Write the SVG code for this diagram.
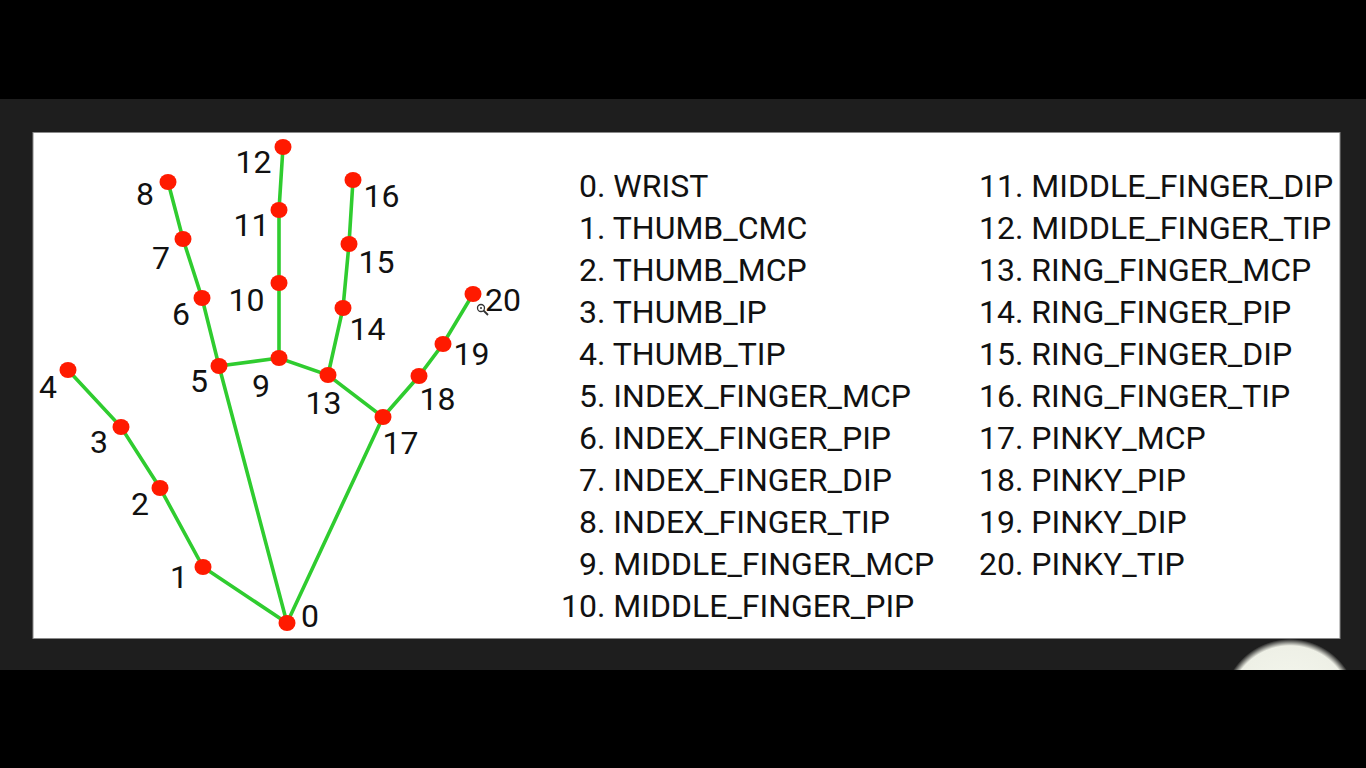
<svg xmlns="http://www.w3.org/2000/svg" width="1366" height="768" viewBox="0 0 1366 768">
  <defs>
    <style>
      .bone { stroke: #2fcc2f; stroke-width: 3.6; stroke-linecap: round; fill: none; }
      .pt { fill: #ff1a00; }
      .lbl { font-family: Roboto, "Liberation Sans", sans-serif; font-size: 32px; fill: #111; }
      .item { font-family: Roboto, "Liberation Sans", sans-serif; font-size: 32px; fill: #111; }
    </style>
    <radialGradient id="blob" cx="0.5" cy="0.5" r="0.5">
      <stop offset="0" stop-color="#f6f8f0"/>
      <stop offset="0.9" stop-color="#eef0e6"/>
      <stop offset="1" stop-color="#1e1e1e"/>
    </radialGradient>
  </defs>
  <rect x="0" y="0" width="1366" height="768" fill="#000"/>
  <rect x="0" y="99" width="1366" height="571" fill="#1e1e1e"/>
  <circle cx="1290" cy="707" r="68" fill="url(#blob)"/>
  <rect x="0" y="670" width="1366" height="98" fill="#000"/>
  <rect x="33" y="132.5" width="1307" height="506" fill="#fff" stroke="#8a8a8a" stroke-width="1"/>

  <g id="connectors">
    <polyline class="bone" points="287,623 203,567 160,488 121,427 68,370"/>
    <polyline class="bone" points="287,623 219,366 202,298 183,239 168,182"/>
    <polyline class="bone" points="219,366 279,358 328,375 383,417 287,623"/>
    <polyline class="bone" points="279,358 279,283 279,210 283,147"/>
    <polyline class="bone" points="328,375 343,308 349,244 353,180"/>
    <polyline class="bone" points="383,417 419,376 443,344 473,294"/>
  </g>

  <g id="n0"><ellipse class="pt" cx="287" cy="623" rx="8.5" ry="8"/><text class="lbl" x="301" y="627">0</text></g>
  <g id="n1"><ellipse class="pt" cx="203" cy="567" rx="8.5" ry="8"/><text class="lbl" x="170" y="588">1</text></g>
  <g id="n2"><ellipse class="pt" cx="160" cy="488" rx="8.5" ry="8"/><text class="lbl" x="131" y="515">2</text></g>
  <g id="n3"><ellipse class="pt" cx="121" cy="427" rx="8.5" ry="8"/><text class="lbl" x="90" y="453">3</text></g>
  <g id="n4"><ellipse class="pt" cx="68" cy="370" rx="8.5" ry="8"/><text class="lbl" x="39" y="398">4</text></g>
  <g id="n5"><ellipse class="pt" cx="219" cy="366" rx="8.5" ry="8"/><text class="lbl" x="190" y="392">5</text></g>
  <g id="n6"><ellipse class="pt" cx="202" cy="298" rx="8.5" ry="8"/><text class="lbl" x="172" y="325">6</text></g>
  <g id="n7"><ellipse class="pt" cx="183" cy="239" rx="8.5" ry="8"/><text class="lbl" x="152" y="269">7</text></g>
  <g id="n8"><ellipse class="pt" cx="168" cy="182" rx="8.5" ry="8"/><text class="lbl" x="136" y="205">8</text></g>
  <g id="n9"><ellipse class="pt" cx="279" cy="358" rx="8.5" ry="8"/><text class="lbl" x="252" y="397">9</text></g>
  <g id="n10"><ellipse class="pt" cx="279" cy="283" rx="8.5" ry="8"/><text class="lbl" x="228.5" y="311">10</text></g>
  <g id="n11"><ellipse class="pt" cx="279" cy="210" rx="8.5" ry="8"/><text class="lbl" x="233.5" y="236">11</text></g>
  <g id="n12"><ellipse class="pt" cx="283" cy="147" rx="8.5" ry="8"/><text class="lbl" x="235.5" y="173">12</text></g>
  <g id="n13"><ellipse class="pt" cx="328" cy="375" rx="8.5" ry="8"/><text class="lbl" x="305.5" y="414">13</text></g>
  <g id="n14"><ellipse class="pt" cx="343" cy="308" rx="8.5" ry="8"/><text class="lbl" x="349.5" y="340">14</text></g>
  <g id="n15"><ellipse class="pt" cx="349" cy="244" rx="8.5" ry="8"/><text class="lbl" x="358.5" y="273">15</text></g>
  <g id="n16"><ellipse class="pt" cx="353" cy="180" rx="8.5" ry="8"/><text class="lbl" x="363.5" y="207">16</text></g>
  <g id="n17"><ellipse class="pt" cx="383" cy="417" rx="8.5" ry="8"/><text class="lbl" x="382.5" y="454">17</text></g>
  <g id="n18"><ellipse class="pt" cx="419" cy="376" rx="8.5" ry="8"/><text class="lbl" x="419.5" y="410">18</text></g>
  <g id="n19"><ellipse class="pt" cx="443" cy="344" rx="8.5" ry="8"/><text class="lbl" x="453.5" y="365">19</text></g>
  <g id="n20"><ellipse class="pt" cx="473" cy="294" rx="8.5" ry="8"/><text class="lbl" x="485" y="311">20</text></g>

  <g id="cursor" fill="none" stroke="#333" stroke-width="1.3">
    <circle cx="481" cy="308" r="3.5" fill="#fff"/>
    <circle cx="481" cy="308" r="1" fill="#333" stroke="none"/>
    <line x1="483.5" y1="310.5" x2="488" y2="315" stroke-width="1.8"/>
  </g>

  <g id="legend">
    <text class="item" x="579" y="197">0. WRIST</text>
    <text class="item" x="579" y="239">1. THUMB_CMC</text>
    <text class="item" x="579" y="281">2. THUMB_MCP</text>
    <text class="item" x="579" y="323">3. THUMB_IP</text>
    <text class="item" x="579" y="365">4. THUMB_TIP</text>
    <text class="item" x="579" y="407">5. INDEX_FINGER_MCP</text>
    <text class="item" x="579" y="449">6. INDEX_FINGER_PIP</text>
    <text class="item" x="579" y="491">7. INDEX_FINGER_DIP</text>
    <text class="item" x="579" y="533">8. INDEX_FINGER_TIP</text>
    <text class="item" x="579" y="575">9. MIDDLE_FINGER_MCP</text>
    <text class="item" x="561" y="617">10. MIDDLE_FINGER_PIP</text>
    <text class="item" x="979" y="197">11. MIDDLE_FINGER_DIP</text>
    <text class="item" x="979" y="239">12. MIDDLE_FINGER_TIP</text>
    <text class="item" x="979" y="281">13. RING_FINGER_MCP</text>
    <text class="item" x="979" y="323">14. RING_FINGER_PIP</text>
    <text class="item" x="979" y="365">15. RING_FINGER_DIP</text>
    <text class="item" x="979" y="407">16. RING_FINGER_TIP</text>
    <text class="item" x="979" y="449">17. PINKY_MCP</text>
    <text class="item" x="979" y="491">18. PINKY_PIP</text>
    <text class="item" x="979" y="533">19. PINKY_DIP</text>
    <text class="item" x="979" y="575">20. PINKY_TIP</text>
  </g>
</svg>
